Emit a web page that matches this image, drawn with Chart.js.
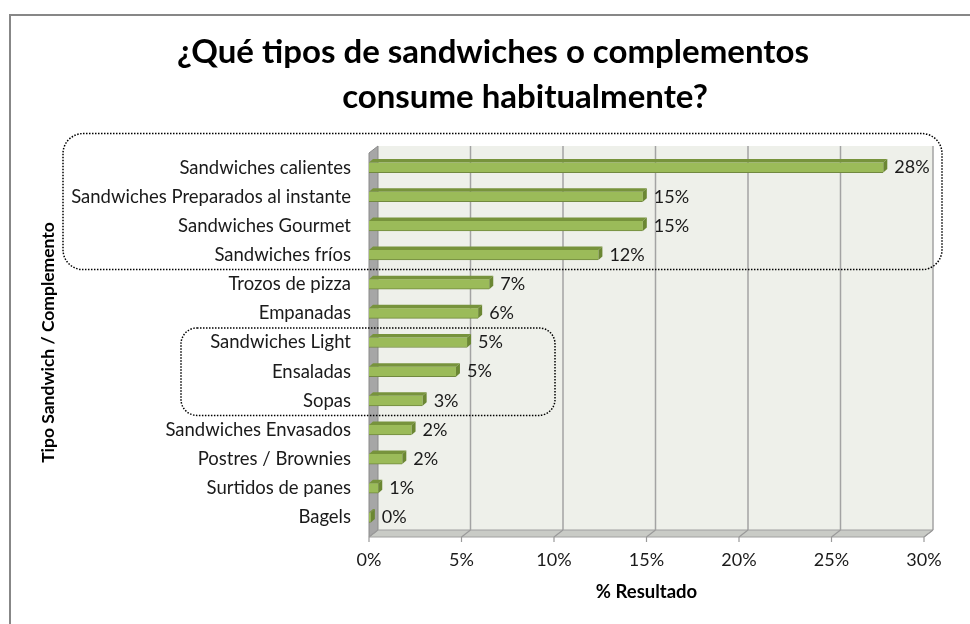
<!DOCTYPE html>
<html>
<head>
<meta charset="utf-8">
<script src="https://cdn.jsdelivr.net/npm/chart.js@4.4.1/dist/chart.umd.min.js"></script>
<style>
html, body { margin: 0; padding: 0; background: #fff; }
canvas { display: block; }
</style>
</head>
<body>
<canvas id="barChart" width="970" height="624"></canvas>
<script>
"use strict";

var titleLines = ['¿Qué tipos de sandwiches o complementos', 'consume habitualmente?'];
var categories = [
    'Sandwiches calientes',
    'Sandwiches Preparados al instante',
    'Sandwiches Gourmet',
    'Sandwiches fríos',
    'Trozos de pizza',
    'Empanadas',
    'Sandwiches Light',
    'Ensaladas',
    'Sopas',
    'Sandwiches Envasados',
    'Postres / Brownies',
    'Surtidos de panes',
    'Bagels'
];
var results = [27.8, 14.8, 14.8, 12.4, 6.5, 5.9, 5.3, 4.7, 2.9, 2.3, 1.8, 0.5, 0.1];
var xTicks = [0, 5, 10, 15, 20, 25, 30];

var FONT = 'Lato, "Open Sans", sans-serif';
var DX = 9, DY = 7;       // depth of walls / floor
var BDX = 4, BDY = 3.5;   // depth of each bar

// 3D frame: back wall, grid lines, left wall and floor
var frame3d = {
    id: 'frame3d',
    beforeDraw: function (chart) {
        var c = chart.ctx;
        c.save();
        c.strokeStyle = '#878787';
        c.lineWidth = 2;
        c.strokeRect(10, 15, 1000, 700);
        // title, two centred lines
        c.fillStyle = '#000';
        c.font = 'bold 33px ' + FONT;
        c.textAlign = 'center';
        c.textBaseline = 'middle';
        c.fillText(titleLines[0], 493, 52);
        c.fillText(titleLines[1], 525, 97);
        c.restore();
    },
    beforeDatasetsDraw: function (chart) {
        var c = chart.ctx, a = chart.chartArea, x = chart.scales.x;
        var L = x.getPixelForValue(0), R = x.getPixelForValue(30);
        var T = a.top, B = a.bottom + 5;
        c.save();
        // back wall
        c.fillStyle = '#eef0ea';
        c.fillRect(L + DX, T - DY, R - L, B - T);
        // grid lines
        c.strokeStyle = '#a3a3a3';
        c.lineWidth = 1.5;
        xTicks.forEach(function (v) {
            if (v === 0) return;
            var px = x.getPixelForValue(v) + DX;
            c.beginPath();
            c.moveTo(px, T - DY);
            c.lineTo(px, B - DY);
            c.stroke();
        });
        // left wall
        c.fillStyle = '#a6a6a6';
        c.beginPath();
        c.moveTo(L, T); c.lineTo(L + DX, T - DY); c.lineTo(L + DX, B - DY); c.lineTo(L, B);
        c.closePath();
        c.fill();
        c.strokeStyle = '#8a8a8a';
        c.lineWidth = 1;
        c.stroke();
        // floor
        c.fillStyle = '#c9cbc6';
        c.beginPath();
        c.moveTo(L, B); c.lineTo(L + DX, B - DY); c.lineTo(R + DX, B - DY); c.lineTo(R, B);
        c.closePath();
        c.fill();
        c.strokeStyle = '#a0a0a0';
        c.stroke();
        c.strokeStyle = '#9a9a9a';
        c.lineWidth = 1.2;
        xTicks.forEach(function (v) {
            var px = x.getPixelForValue(v);
            c.beginPath();
            c.moveTo(px, B); c.lineTo(px + DX, B - DY);
            c.moveTo(px, B); c.lineTo(px, B + 5);
            c.stroke();
        });
        c.restore();
    },
    afterDatasetsDraw: function (chart) {
        var c = chart.ctx;
        var bars = chart.getDatasetMeta(0).data;
        c.save();
        bars.forEach(function (bar, i) {
            var p = bar.getProps(['x', 'y', 'base', 'height'], true);
            var top = p.y - p.height / 2, bot = p.y + p.height / 2;
            // top face
            c.fillStyle = '#77933c';
            c.beginPath();
            c.moveTo(p.base, top); c.lineTo(p.base + BDX, top - BDY);
            c.lineTo(p.x + BDX, top - BDY); c.lineTo(p.x, top);
            c.closePath();
            c.fill();
            // side face
            c.fillStyle = '#6b8733';
            c.beginPath();
            c.moveTo(p.x, top); c.lineTo(p.x + BDX, top - BDY);
            c.lineTo(p.x + BDX, bot - BDY); c.lineTo(p.x, bot);
            c.closePath();
            c.fill();
            // value label
            c.fillStyle = '#1a1a1a';
            c.font = '18px ' + FONT;
            c.textAlign = 'left';
            c.textBaseline = 'middle';
            c.fillText(Math.round(results[i]) + '%', p.x + BDX + 7, p.y);
        });
        c.restore();
    },
    afterDraw: function (chart) {
        var c = chart.ctx, x = chart.scales.x, y = chart.scales.y;
        var half = (y.getPixelForTick(1) - y.getPixelForTick(0)) / 2;
        function dotted(l, t, r, b, rad) {
            c.beginPath();
            c.moveTo(l + rad, t);
            c.arcTo(r, t, r, b, rad);
            c.arcTo(r, b, l, b, rad);
            c.arcTo(l, b, l, t, rad);
            c.arcTo(l, t, r, t, rad);
            c.closePath();
            c.stroke();
        }
        c.save();
        c.strokeStyle = '#000';
        c.lineWidth = 1.5;
        c.setLineDash([1.5, 1.5]);
        dotted(63, y.getPixelForTick(0) - 34, x.getPixelForValue(30) + 18,
            y.getPixelForTick(3) + half, 20);
        dotted(181, y.getPixelForTick(5) + half, x.getPixelForValue(10) + 1,
            y.getPixelForTick(8) + half, 16);
        c.restore();
    }
};

var ctx = document.getElementById('barChart').getContext('2d');
var myChart = new Chart(ctx, {
    type: 'bar',
    data: {
        labels: categories,
        datasets: [{
            label: '% Resultado',
            data: results,
            backgroundColor: '#9bbb59',
            borderColor: '#71893f',
            borderWidth: { top: 0, left: 0, right: 0, bottom: 1 },
            borderSkipped: false,
            barThickness: 10
        }]
    },
    options: {
        indexAxis: 'y',
        responsive: false,
        animation: false,
        devicePixelRatio: 1,
        layout: { padding: { left: 0, right: 46, top: 153, bottom: 0 } },
        plugins: {
            legend: { display: false },
            tooltip: { enabled: false },
            title: { display: false }
        },
        scales: {
            x: {
                min: 0,
                max: 30,
                grid: { display: false, drawTicks: false },
                border: { display: false },
                ticks: {
                    stepSize: 5,
                    padding: 17,
                    color: '#1a1a1a',
                    font: { family: FONT, size: 18 },
                    callback: function (v) { return v + '%'; }
                },
                title: {
                    display: true,
                    text: '% Resultado',
                    color: '#000',
                    font: { family: FONT, size: 18.5, weight: 'bold' },
                    padding: { top: 0, bottom: 21 }
                },
                afterFit: function (scale) { scale.height = 92; }
            },
            y: {
                grid: { display: false, drawTicks: false },
                border: { display: false },
                ticks: {
                    padding: 18,
                    color: '#1a1a1a',
                    font: { family: FONT, size: 18.5 }
                },
                title: {
                    display: true,
                    text: 'Tipo Sandwich / Complemento',
                    color: '#000',
                    font: { family: FONT, size: 17.5, weight: 'bold' },
                    padding: { top: 37.5, bottom: 0 }
                },
                afterFit: function (scale) { scale.width = 369; }
            }
        }
    },
    plugins: [frame3d]
});
</script>
</body>
</html>
